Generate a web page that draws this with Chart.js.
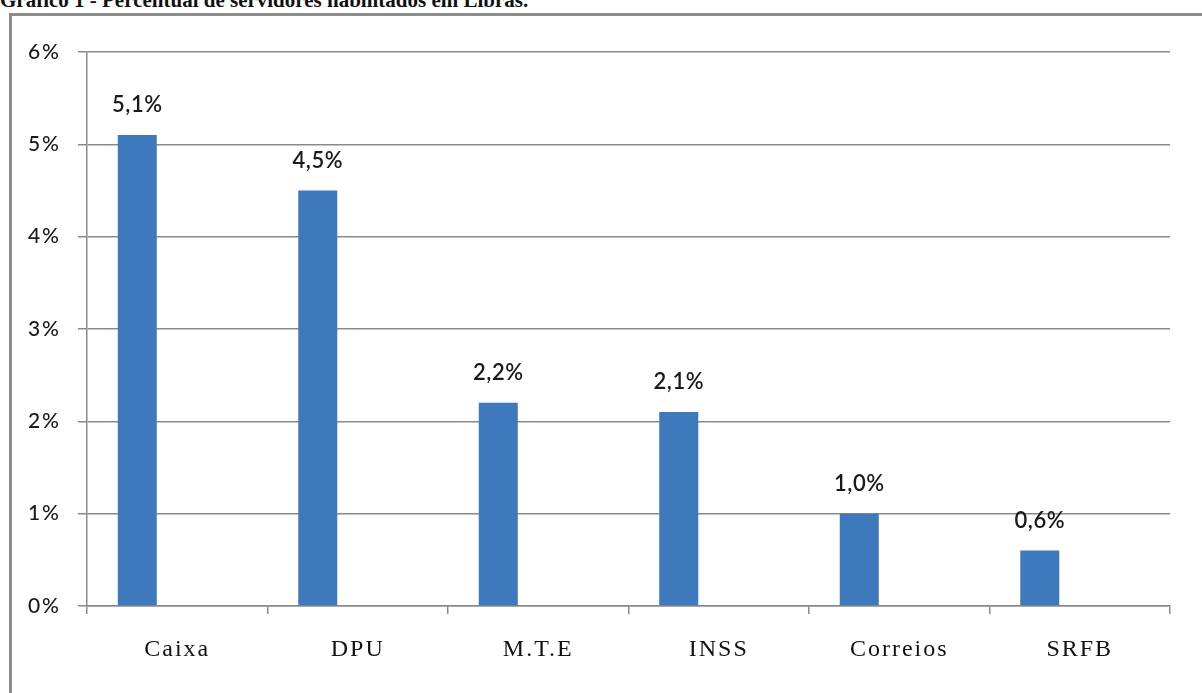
<!DOCTYPE html>
<html>
<head>
<meta charset="utf-8">
<script src="https://cdn.jsdelivr.net/npm/chart.js@4.4.0/dist/chart.umd.min.js"></script>
<style>
  html, body { margin: 0; padding: 0; background: #fff; overflow: hidden; }
  #title {
    position: absolute; left: 0; top: -12px; margin: 0;
    font: bold 21px "Liberation Serif", serif; color: #111; white-space: nowrap;
  }
  #frame {
    position: absolute; left: 9px; top: 13px; width: 1220px; height: 720px;
    border-left: 3px solid #8c8c8c; border-top: 3px solid #8c8c8c;
  }
  #wrap { position: absolute; left: 0; top: 0; width: 1202px; height: 693px; }
</style>
</head>
<body>
<div id="title">Gráfico 1 - Percentual de servidores habilitados em Libras.</div>
<div id="frame"></div>
<div id="wrap"><canvas id="chart"></canvas></div>
<script>
// chart data
const categories = ['Caixa', 'DPU', 'M.T.E', 'INSS', 'Correios', 'SRFB'];
const percentValues = [5.1, 4.5, 2.2, 2.1, 1.0, 0.6];
// empty second series: keeps the bars on the left half of each slot, as in the original
const spacerValues = [null, null, null, null, null, null];
const yTicks = [0, 1, 2, 3, 4, 5, 6];

const BAR_BLUE = '#3e79bd';
const GRID_GREY = '#8a8a8a';

const fmt = v => v.toFixed(1).replace('.', ',') + '%';

// axis text in the original is a bit wide
const spacedAxisText = {
  id: 'spacedAxisText',
  beforeDraw(chart) { chart.ctx.letterSpacing = '2px'; },
  beforeDatasetsDraw(chart) { chart.ctx.letterSpacing = '0px'; },
};

// draws "5,1%" etc. above each bar
const valueLabels = {
  id: 'valueLabels',
  afterDatasetsDraw(chart) {
    const ctx = chart.ctx;
    const meta = chart.getDatasetMeta(0);
    ctx.save();
    ctx.letterSpacing = '0.5px';
    ctx.font = '600 22px Lato, sans-serif';
    ctx.fillStyle = '#1a1a1a';
    ctx.textAlign = 'center';
    ctx.textBaseline = 'middle';
    meta.data.forEach((bar, i) => {
      ctx.fillText(fmt(percentValues[i]), bar.x, bar.y - 30);
    });
    ctx.restore();
  },
};

new Chart(document.getElementById('chart'), {
  type: 'bar',
  data: {
    labels: categories,
    datasets: [
      {
        data: percentValues,
        backgroundColor: BAR_BLUE,
        categoryPercentage: 0.886,
        barPercentage: 0.488,
      },
      {
        data: spacerValues,
        backgroundColor: BAR_BLUE,
        categoryPercentage: 0.886,
        barPercentage: 0.488,
      },
    ],
  },
  options: {
    responsive: true,
    maintainAspectRatio: false,
    animation: false,
    layout: { padding: { left: 0, top: 52, right: 32, bottom: 0 } },
    plugins: {
      legend: { display: false },
      tooltip: { enabled: false },
    },
    scales: {
      x: {
        grid: {
          offset: true,
          drawOnChartArea: false,
          color: GRID_GREY,
          lineWidth: 1.5,
          tickLength: 8,
        },
        border: { color: GRID_GREY, width: 1.5 },
        ticks: {
          color: '#111',
          padding: 21,
          font: { family: '"Liberation Serif", serif', size: 24 },
        },
        afterFit: s => { s.height = 87; },
      },
      y: {
        min: 0,
        max: 6,
        afterBuildTicks: s => { s.ticks = yTicks.map(v => ({ value: v })); },
        grid: {
          color: GRID_GREY,
          lineWidth: 1.5,
          tickLength: 9,
        },
        border: { color: GRID_GREY, width: 1.5 },
        ticks: {
          color: '#1a1a1a',
          padding: 17,
          font: { family: 'Lato, sans-serif', size: 21, weight: '500' },
          callback: v => v + '%',
        },
        afterFit: s => { s.width = 87; },
      },
    },
  },
  plugins: [spacedAxisText, valueLabels],
});
</script>
</body>
</html>
